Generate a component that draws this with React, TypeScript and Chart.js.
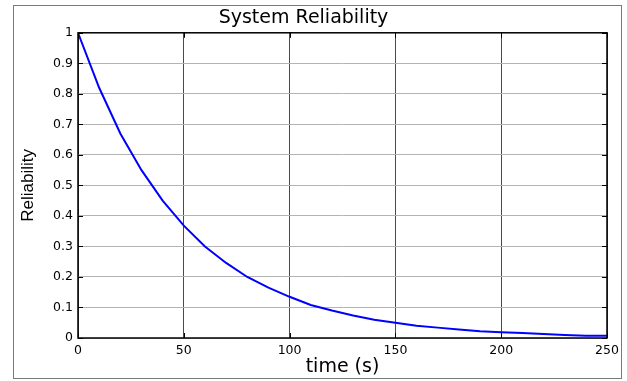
import React, { useEffect, useRef } from "react";
import { Chart, registerables } from "chart.js";

Chart.register(...registerables);

const titleText = "System Reliability";
const xTitle = "time (s)";
const yTitle = "Reliability";
const timeValues = [0, 10, 20, 30, 40, 50, 60, 70, 80, 90, 100, 110, 120, 130, 140, 150, 160, 170, 180, 190, 200, 210, 220, 230, 240, 250];
const reliabilityValues = [1, 0.82, 0.67, 0.55, 0.45, 0.368, 0.3, 0.246, 0.2, 0.165, 0.135, 0.108, 0.09, 0.074, 0.06, 0.05, 0.04, 0.034, 0.028, 0.022, 0.019, 0.016, 0.013, 0.01, 0.007, 0.007];
const xMin = 0, xMax = 250, xStep = 50;
const yMin = 0, yMax = 1, yStep = 0.1;

const framePlugin = {
  id: "framePlugin",
  beforeDraw(chart: any) {
    const ctx = chart.ctx;
    ctx.save();
    ctx.fillStyle = "#ffffff";
    ctx.fillRect(0, 0, chart.width, chart.height);
    ctx.strokeStyle = "#7a7a7a";
    ctx.lineWidth = 1;
    ctx.strokeRect(13.5, 5.5, 608, 373);
    ctx.restore();
  },
  afterDraw(chart: any) {
    const ctx = chart.ctx;
    const a = chart.chartArea;
    const xs = chart.scales.x;
    const ys = chart.scales.y;
    ctx.save();
    ctx.strokeStyle = "#000000";
    ctx.lineWidth = 1;
    ctx.beginPath();
    xs.ticks.forEach((t: any) => {
      const px = Math.round(xs.getPixelForValue(t.value)) + 0.5;
      ctx.moveTo(px, a.bottom);
      ctx.lineTo(px, a.bottom - 5);
      ctx.moveTo(px, a.top);
      ctx.lineTo(px, a.top + 5);
    });
    ys.ticks.forEach((t: any) => {
      const py = Math.round(ys.getPixelForValue(t.value)) + 0.5;
      ctx.moveTo(a.left, py);
      ctx.lineTo(a.left + 5, py);
      ctx.moveTo(a.right, py);
      ctx.lineTo(a.right - 5, py);
    });
    ctx.stroke();
    ctx.lineWidth = 1.5;
    ctx.strokeRect(a.left, a.top, a.right - a.left, a.bottom - a.top);
    ctx.restore();
  },
};

export default function App() {
  const ref = useRef<HTMLCanvasElement | null>(null);
  useEffect(() => {
    document.body.style.margin = "0";
    const points = timeValues.map((t, i) => ({ x: t, y: reliabilityValues[i] }));
    const chart = new Chart(ref.current as HTMLCanvasElement, {
      type: "line",
      data: {
        datasets: [
          {
            data: points,
            borderColor: "#0000ff",
            borderWidth: 2,
            pointRadius: 0,
            fill: false,
            tension: 0,
          },
        ],
      },
      options: {
        responsive: false,
        animation: false,
        layout: { padding: { left: 0, right: 20, top: 0, bottom: 0 } },
        plugins: {
          legend: { display: false },
          tooltip: { enabled: false },
          title: {
            display: true,
            text: titleText,
            color: "#000",
            font: { family: "DejaVu Sans", size: 19, weight: "normal" },
            padding: { top: 7, bottom: 3 },
          },
        },
        scales: {
          x: {
            type: "linear",
            min: xMin,
            max: xMax,
            afterFit: (s: any) => { s.height = 43; },
            ticks: { stepSize: xStep, color: "#000", font: { family: "DejaVu Sans", size: 12.5 }, padding: 5, maxRotation: 0 },
            grid: { color: "#4a4a4a", drawTicks: false, lineWidth: 1 },
            border: { display: false },
            title: {
              display: true,
              text: xTitle,
              color: "#000",
              font: { family: "DejaVu Sans", size: 19 },
              padding: { top: 0, bottom: 3 },
            },
          },
          y: {
            type: "linear",
            min: yMin,
            max: yMax,
            afterFit: (s: any) => { s.width = 78; },
            ticks: {
              stepSize: yStep,
              color: "#000",
              font: { family: "DejaVu Sans", size: 12.5 },
              padding: 5,
              callback: (v: any) => String(Number(Number(v).toFixed(1))),
            },
            grid: { color: "#b4b4b4", drawTicks: false, lineWidth: 1 },
            border: { display: false },
            title: {
              display: true,
              text: yTitle,
              color: "#000",
              font: { family: "Liberation Sans", size: 17 },
              padding: { top: 18, bottom: 0 },
            },
          },
        },
      },
      plugins: [framePlugin],
    });
    return () => chart.destroy();
  }, []);
  return (
    <div style={{ position: "absolute", left: 0, top: 0, width: 627, height: 381 }}>
      <canvas ref={ref} width={627} height={381} />
    </div>
  );
}
